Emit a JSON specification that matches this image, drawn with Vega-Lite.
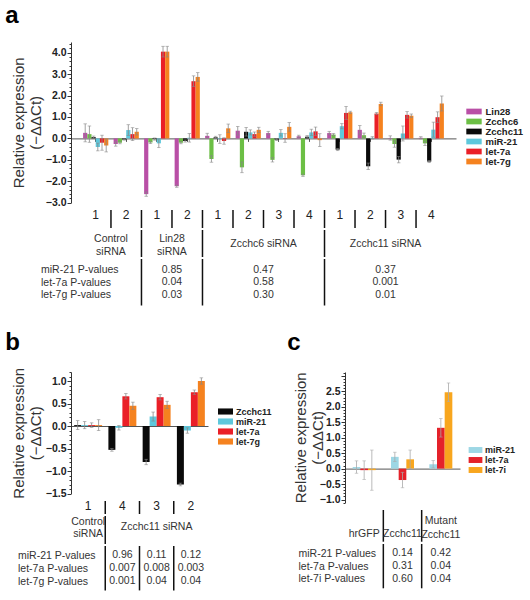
{
  "$schema": "https://vega.github.io/schema/vega-lite/v6.json",
  "padding": {"left": 5, "top": 4, "right": 5, "bottom": 2},
  "config": {"font": "Liberation Sans", "view": {"stroke": null}, "axis": {"grid": false}},
  "datasets": {
    "a_bars": [
      {"g": "Control siRNA 1", "s": "Lin28", "v": 0.26, "e": 0.42},
      {"g": "Control siRNA 1", "s": "Zcchc6", "v": 0.2, "e": 0.38},
      {"g": "Control siRNA 1", "s": "Zcchc11", "v": 0.06, "e": 0.05},
      {"g": "Control siRNA 1", "s": "miR-21", "v": -0.4, "e": 0.18},
      {"g": "Control siRNA 1", "s": "let-7a", "v": -0.2, "e": 0.35},
      {"g": "Control siRNA 1", "s": "let-7g", "v": -0.33, "e": 0.3},
      {"g": "Control siRNA 2", "s": "Lin28", "v": -0.26, "e": 0.1},
      {"g": "Control siRNA 2", "s": "Zcchc6", "v": -0.2, "e": 0.05},
      {"g": "Control siRNA 2", "s": "Zcchc11", "v": -0.05, "e": 0.03},
      {"g": "Control siRNA 2", "s": "miR-21", "v": 0.39, "e": 0.25},
      {"g": "Control siRNA 2", "s": "let-7a", "v": 0.2, "e": 0.3},
      {"g": "Control siRNA 2", "s": "let-7g", "v": 0.31, "e": 0.15},
      {"g": "Lin28 siRNA 1", "s": "Lin28", "v": -2.6, "e": 0.1},
      {"g": "Lin28 siRNA 1", "s": "Zcchc6", "v": -0.19, "e": 0.05},
      {"g": "Lin28 siRNA 1", "s": "Zcchc11", "v": -0.03, "e": 0.05},
      {"g": "Lin28 siRNA 1", "s": "miR-21", "v": -0.23, "e": 0.2},
      {"g": "Lin28 siRNA 1", "s": "let-7a", "v": 4.05, "e": 0.25},
      {"g": "Lin28 siRNA 1", "s": "let-7g", "v": 4.05, "e": 0.25},
      {"g": "Lin28 siRNA 2", "s": "Lin28", "v": -2.23, "e": 0.05},
      {"g": "Lin28 siRNA 2", "s": "Zcchc6", "v": -0.2, "e": 0.05},
      {"g": "Lin28 siRNA 2", "s": "Zcchc11", "v": -0.12, "e": 0.05},
      {"g": "Lin28 siRNA 2", "s": "miR-21", "v": 0.03, "e": 0.2},
      {"g": "Lin28 siRNA 2", "s": "let-7a", "v": 2.67, "e": 0.25},
      {"g": "Lin28 siRNA 2", "s": "let-7g", "v": 2.87, "e": 0.2},
      {"g": "Zcchc6 siRNA 1", "s": "Lin28", "v": 0.12, "e": 0.12},
      {"g": "Zcchc6 siRNA 1", "s": "Zcchc6", "v": -0.96, "e": 0.15},
      {"g": "Zcchc6 siRNA 1", "s": "Zcchc11", "v": 0.05, "e": 0.05},
      {"g": "Zcchc6 siRNA 1", "s": "miR-21", "v": -0.03, "e": 0.2},
      {"g": "Zcchc6 siRNA 1", "s": "let-7a", "v": -0.12, "e": 0.15},
      {"g": "Zcchc6 siRNA 1", "s": "let-7g", "v": 0.47, "e": 0.2},
      {"g": "Zcchc6 siRNA 2", "s": "Lin28", "v": 0.36, "e": 0.2},
      {"g": "Zcchc6 siRNA 2", "s": "Zcchc6", "v": -1.35, "e": 0.25},
      {"g": "Zcchc6 siRNA 2", "s": "Zcchc11", "v": 0.31, "e": 0.2},
      {"g": "Zcchc6 siRNA 2", "s": "miR-21", "v": 0.28, "e": 0.12},
      {"g": "Zcchc6 siRNA 2", "s": "let-7a", "v": 0.2, "e": 0.1},
      {"g": "Zcchc6 siRNA 2", "s": "let-7g", "v": 0.4, "e": 0.12},
      {"g": "Zcchc6 siRNA 3", "s": "Lin28", "v": 0.25, "e": 0.08},
      {"g": "Zcchc6 siRNA 3", "s": "Zcchc6", "v": -1.0, "e": 0.1},
      {"g": "Zcchc6 siRNA 3", "s": "Zcchc11", "v": -0.05, "e": 0.05},
      {"g": "Zcchc6 siRNA 3", "s": "miR-21", "v": 0.26, "e": 0.15},
      {"g": "Zcchc6 siRNA 3", "s": "let-7a", "v": 0.02, "e": 0.2},
      {"g": "Zcchc6 siRNA 3", "s": "let-7g", "v": 0.54, "e": 0.2},
      {"g": "Zcchc6 siRNA 4", "s": "Lin28", "v": 0.1, "e": 0.05},
      {"g": "Zcchc6 siRNA 4", "s": "Zcchc6", "v": -1.72, "e": 0.05},
      {"g": "Zcchc6 siRNA 4", "s": "Zcchc11", "v": 0.08, "e": 0.05},
      {"g": "Zcchc6 siRNA 4", "s": "miR-21", "v": 0.28, "e": 0.15},
      {"g": "Zcchc6 siRNA 4", "s": "let-7a", "v": 0.33, "e": 0.2},
      {"g": "Zcchc6 siRNA 4", "s": "let-7g", "v": -0.08, "e": 0.3},
      {"g": "Zcchc11 siRNA 1", "s": "Lin28", "v": 0.25, "e": 0.08},
      {"g": "Zcchc11 siRNA 1", "s": "Zcchc6", "v": 0.18, "e": 0.05},
      {"g": "Zcchc11 siRNA 1", "s": "Zcchc11", "v": -0.52, "e": 0.05},
      {"g": "Zcchc11 siRNA 1", "s": "miR-21", "v": 0.57, "e": 0.12},
      {"g": "Zcchc11 siRNA 1", "s": "let-7a", "v": 1.19, "e": 0.3},
      {"g": "Zcchc11 siRNA 1", "s": "let-7g", "v": 1.22, "e": 0.05},
      {"g": "Zcchc11 siRNA 2", "s": "Lin28", "v": 0.4, "e": 0.2},
      {"g": "Zcchc11 siRNA 2", "s": "Zcchc6", "v": 0.15, "e": 0.1},
      {"g": "Zcchc11 siRNA 2", "s": "Zcchc11", "v": -1.3, "e": 0.15},
      {"g": "Zcchc11 siRNA 2", "s": "miR-21", "v": 0.03, "e": 0.05},
      {"g": "Zcchc11 siRNA 2", "s": "let-7a", "v": 1.16, "e": 0.05},
      {"g": "Zcchc11 siRNA 2", "s": "let-7g", "v": 1.61, "e": 0.08},
      {"g": "Zcchc11 siRNA 3", "s": "Lin28", "v": 0.02, "e": 0.1},
      {"g": "Zcchc11 siRNA 3", "s": "Zcchc6", "v": -0.26, "e": 0.15},
      {"g": "Zcchc11 siRNA 3", "s": "Zcchc11", "v": -0.99, "e": 0.15},
      {"g": "Zcchc11 siRNA 3", "s": "miR-21", "v": 0.23, "e": 0.35},
      {"g": "Zcchc11 siRNA 3", "s": "let-7a", "v": 1.1, "e": 0.15},
      {"g": "Zcchc11 siRNA 3", "s": "let-7g", "v": 1.06, "e": 0.08},
      {"g": "Zcchc11 siRNA 4", "s": "Lin28", "v": 0.03, "e": 0.05},
      {"g": "Zcchc11 siRNA 4", "s": "Zcchc6", "v": -0.23, "e": 0.1},
      {"g": "Zcchc11 siRNA 4", "s": "Zcchc11", "v": -1.08, "e": 0.05},
      {"g": "Zcchc11 siRNA 4", "s": "miR-21", "v": 0.41, "e": 0.35},
      {"g": "Zcchc11 siRNA 4", "s": "let-7a", "v": 0.99, "e": 0.25},
      {"g": "Zcchc11 siRNA 4", "s": "let-7g", "v": 1.63, "e": 0.35}
    ],
    "a_groups": [
      {"g": "Control siRNA 1", "num": "1", "sep": "none"},
      {"g": "Control siRNA 2", "num": "2", "sep": "short"},
      {"g": "Lin28 siRNA 1", "num": "1", "sep": "long"},
      {"g": "Lin28 siRNA 2", "num": "2", "sep": "short"},
      {"g": "Zcchc6 siRNA 1", "num": "1", "sep": "long"},
      {"g": "Zcchc6 siRNA 2", "num": "2", "sep": "short"},
      {"g": "Zcchc6 siRNA 3", "num": "3", "sep": "short"},
      {"g": "Zcchc6 siRNA 4", "num": "4", "sep": "short"},
      {"g": "Zcchc11 siRNA 1", "num": "1", "sep": "long"},
      {"g": "Zcchc11 siRNA 2", "num": "2", "sep": "short"},
      {"g": "Zcchc11 siRNA 3", "num": "3", "sep": "short"},
      {"g": "Zcchc11 siRNA 4", "num": "4", "sep": "short"}
    ],
    "a_conds": [
      {"g": "Control siRNA 1", "label": "Control\nsiRNA"},
      {"g": "Lin28 siRNA 1", "label": "Lin28\nsiRNA"},
      {"g": "Zcchc6 siRNA 2", "label": "Zcchc6 siRNA"},
      {"g": "Zcchc11 siRNA 2", "label": "Zcchc11 siRNA"}
    ],
    "a_p": [
      {"row": "miR-21 P-values", "g": "Lin28 siRNA 1", "p": "0.85"},
      {"row": "let-7a P-values", "g": "Lin28 siRNA 1", "p": "0.04"},
      {"row": "let-7g P-values", "g": "Lin28 siRNA 1", "p": "0.03"},
      {"row": "miR-21 P-values", "g": "Zcchc6 siRNA 2", "p": "0.47"},
      {"row": "let-7a P-values", "g": "Zcchc6 siRNA 2", "p": "0.58"},
      {"row": "let-7g P-values", "g": "Zcchc6 siRNA 2", "p": "0.30"},
      {"row": "miR-21 P-values", "g": "Zcchc11 siRNA 2", "p": "0.37"},
      {"row": "let-7a P-values", "g": "Zcchc11 siRNA 2", "p": "0.001"},
      {"row": "let-7g P-values", "g": "Zcchc11 siRNA 2", "p": "0.01"}
    ],
    "b_bars": [
      {"g": "Control siRNA 1", "s": "Zcchc11", "v": 0.02, "e": 0.1},
      {"g": "Control siRNA 1", "s": "miR-21", "v": 0.02, "e": 0.08},
      {"g": "Control siRNA 1", "s": "let-7a", "v": 0.02, "e": 0.05},
      {"g": "Control siRNA 1", "s": "let-7g", "v": 0.02, "e": 0.12},
      {"g": "Zcchc11 siRNA 4", "s": "Zcchc11", "v": -0.53, "e": 0.03},
      {"g": "Zcchc11 siRNA 4", "s": "miR-21", "v": -0.04, "e": 0.05},
      {"g": "Zcchc11 siRNA 4", "s": "let-7a", "v": 0.66, "e": 0.06},
      {"g": "Zcchc11 siRNA 4", "s": "let-7g", "v": 0.45, "e": 0.08},
      {"g": "Zcchc11 siRNA 3", "s": "Zcchc11", "v": -0.8, "e": 0.06},
      {"g": "Zcchc11 siRNA 3", "s": "miR-21", "v": 0.21, "e": 0.1},
      {"g": "Zcchc11 siRNA 3", "s": "let-7a", "v": 0.64, "e": 0.06},
      {"g": "Zcchc11 siRNA 3", "s": "let-7g", "v": 0.47, "e": 0.08},
      {"g": "Zcchc11 siRNA 2", "s": "Zcchc11", "v": -1.3, "e": 0.03},
      {"g": "Zcchc11 siRNA 2", "s": "miR-21", "v": -0.1, "e": 0.06},
      {"g": "Zcchc11 siRNA 2", "s": "let-7a", "v": 0.75, "e": 0.05},
      {"g": "Zcchc11 siRNA 2", "s": "let-7g", "v": 1.0, "e": 0.07}
    ],
    "b_groups": [
      {"g": "Control siRNA 1", "num": "1", "sep": "none"},
      {"g": "Zcchc11 siRNA 4", "num": "4", "sep": "long"},
      {"g": "Zcchc11 siRNA 3", "num": "3", "sep": "split"},
      {"g": "Zcchc11 siRNA 2", "num": "2", "sep": "split"}
    ],
    "b_conds": [
      {"g": "Control siRNA 1", "label": "Control\nsiRNA"},
      {"g": "Zcchc11 siRNA 3", "label": "Zcchc11 siRNA"}
    ],
    "b_p": [
      {"row": "miR-21 P-values", "g": "Zcchc11 siRNA 4", "p": "0.96"},
      {"row": "let-7a P-values", "g": "Zcchc11 siRNA 4", "p": "0.007"},
      {"row": "let-7g P-values", "g": "Zcchc11 siRNA 4", "p": "0.001"},
      {"row": "miR-21 P-values", "g": "Zcchc11 siRNA 3", "p": "0.11"},
      {"row": "let-7a P-values", "g": "Zcchc11 siRNA 3", "p": "0.008"},
      {"row": "let-7g P-values", "g": "Zcchc11 siRNA 3", "p": "0.04"},
      {"row": "miR-21 P-values", "g": "Zcchc11 siRNA 2", "p": "0.12"},
      {"row": "let-7a P-values", "g": "Zcchc11 siRNA 2", "p": "0.003"},
      {"row": "let-7g P-values", "g": "Zcchc11 siRNA 2", "p": "0.04"}
    ],
    "c_bars": [
      {"g": "hrGFP", "s": "miR-21", "v": 0.05, "e": 0.2},
      {"g": "hrGFP", "s": "let-7a", "v": -0.05, "e": 0.3},
      {"g": "hrGFP", "s": "let-7i", "v": -0.05, "e": 0.65},
      {"g": "Zcchc11", "s": "miR-21", "v": 0.38, "e": 0.15},
      {"g": "Zcchc11", "s": "let-7a", "v": -0.37, "e": 0.25},
      {"g": "Zcchc11", "s": "let-7i", "v": 0.3, "e": 0.3},
      {"g": "Mutant Zcchc11", "s": "miR-21", "v": 0.14, "e": 0.12},
      {"g": "Mutant Zcchc11", "s": "let-7a", "v": 1.32, "e": 0.3},
      {"g": "Mutant Zcchc11", "s": "let-7i", "v": 2.47, "e": 0.3}
    ],
    "c_groups": [
      {"g": "hrGFP", "sep": "none", "label": "hrGFP"},
      {"g": "Zcchc11", "sep": "long", "label": "Zcchc11"},
      {"g": "Mutant Zcchc11", "sep": "long", "label": "Mutant\nZcchc11"}
    ],
    "c_p": [
      {"row": "miR-21 P-values", "g": "Zcchc11", "p": "0.14"},
      {"row": "let-7a P-values", "g": "Zcchc11", "p": "0.31"},
      {"row": "let-7i P-values", "g": "Zcchc11", "p": "0.60"},
      {"row": "miR-21 P-values", "g": "Mutant Zcchc11", "p": "0.42"},
      {"row": "let-7a P-values", "g": "Mutant Zcchc11", "p": "0.04"},
      {"row": "let-7i P-values", "g": "Mutant Zcchc11", "p": "0.04"}
    ]
  },
  "spacing": 23,
  "resolve": {"scale": {"color": "independent", "xOffset": "independent"}, "legend": {"color": "independent"}},
  "vconcat": [
    {
      "title": {"text": "a", "fontSize": 24, "fontWeight": "bold", "anchor": "start", "frame": "bounds", "offset": 11, "dx": -6, "color": "#000"},
      "spacing": 0,
      "vconcat": [
        {
          "width": 385,
          "height": 160.7,
          "data": {"name": "a_bars"},
          "encoding": {
            "x": {"field": "g", "type": "nominal", "scale": {"type": "band", "domain": ["Control siRNA 1", "Control siRNA 2", "Lin28 siRNA 1", "Lin28 siRNA 2", "Zcchc6 siRNA 1", "Zcchc6 siRNA 2", "Zcchc6 siRNA 3", "Zcchc6 siRNA 4", "Zcchc11 siRNA 1", "Zcchc11 siRNA 2", "Zcchc11 siRNA 3", "Zcchc11 siRNA 4"], "paddingInner": 0, "paddingOuter": 0.31}, "axis": {"orient": "bottom", "offset": -64.3, "labels": false, "title": null, "tickSize": 3, "tickColor": "#555", "domainColor": "#555", "domainWidth": 1}},
            "xOffset": {"field": "s", "type": "nominal", "scale": {"domain": ["Lin28", "Zcchc6", "Zcchc11", "miR-21", "let-7a", "let-7g"], "paddingInner": 0, "paddingOuter": 0.63}},
            "y": {"field": "v", "type": "quantitative", "scale": {"domain": [-3, 4.5], "nice": false, "zero": false}, "axis": {"title": ["Relative expression", "(−ΔΔCt)"], "titleFontSize": 15, "titleFontWeight": "normal", "titleColor": "#333", "titleLineHeight": 17, "titlePadding": 2, "values": [-3, -2.8, -2.6, -2.4, -2.2, -2, -1.8, -1.6, -1.4, -1.2, -1, -0.8, -0.6, -0.4, -0.2, 0, 0.2, 0.4, 0.6, 0.8, 1, 1.2, 1.4, 1.6, 1.8, 2, 2.2, 2.4, 2.6, 2.8, 3, 3.2, 3.4, 3.6, 3.8, 4, 4.2, 4.4], "labelExpr": "abs(datum.value - round(datum.value)) < 0.01 ? format(datum.value, '.1f') : ''", "tickSize": {"condition": {"test": "abs(datum.value - round(datum.value)) < 0.01", "value": 4}, "value": 2}, "labelFontSize": 10.5, "labelFontWeight": "bold", "labelColor": "#222", "labelPadding": 1, "labelOverlap": false, "labelFlush": false, "tickColor": "#333", "domainColor": "#333"}}
          },
          "layer": [
            {
              "mark": {"type": "bar"},
              "encoding": {
                "color": {"field": "s", "type": "nominal", "scale": {"domain": ["Lin28", "Zcchc6", "Zcchc11", "miR-21", "let-7a", "let-7g"], "range": ["#b94fa6", "#6cbf45", "#0a0a0a", "#5ec8dc", "#ea1f27", "#f5821f"]}, "legend": {"title": null, "orient": "none", "legendX": 397.5, "legendY": 64, "symbolType": "M-1.4,-0.52H1.4V0.52H-1.4Z", "symbolSize": 121, "symbolStrokeWidth": 0, "labelFontSize": 9.5, "labelFontWeight": "bold", "labelColor": "#222", "labelOffset": 6, "rowPadding": 0, "padding": 0}}
              }
            },
            {
              "mark": {"type": "errorbar", "color": "#888", "thickness": 0.8, "ticks": {"size": 3.5, "thickness": 0.8, "color": "#888"}},
              "encoding": {"yError": {"field": "e"}}
            }
          ]
        },
        {
          "spacing": 0,
          "vconcat": [
            {
              "width": 385,
              "height": 18,
              "data": {"name": "a_groups"},
              "layer": [
                {
                  "transform": [{"filter": "datum.sep != 'none'"}],
                  "mark": {"type": "rule", "color": "#111", "strokeWidth": 1.5},
                  "encoding": {"x": {"field": "g", "type": "nominal", "bandPosition": 0, "scale": {"type": "band", "domain": ["Control siRNA 1", "Control siRNA 2", "Lin28 siRNA 1", "Lin28 siRNA 2", "Zcchc6 siRNA 1", "Zcchc6 siRNA 2", "Zcchc6 siRNA 3", "Zcchc6 siRNA 4", "Zcchc11 siRNA 1", "Zcchc11 siRNA 2", "Zcchc11 siRNA 3", "Zcchc11 siRNA 4"], "paddingInner": 0, "paddingOuter": 0.31}, "axis": null}}
                },
                {
                  "mark": {"type": "text", "fontSize": 12, "color": "#222", "dy": -4},
                  "encoding": {"x": {"field": "g", "type": "nominal", "scale": {"type": "band", "domain": ["Control siRNA 1", "Control siRNA 2", "Lin28 siRNA 1", "Lin28 siRNA 2", "Zcchc6 siRNA 1", "Zcchc6 siRNA 2", "Zcchc6 siRNA 3", "Zcchc6 siRNA 4", "Zcchc11 siRNA 1", "Zcchc11 siRNA 2", "Zcchc11 siRNA 3", "Zcchc11 siRNA 4"], "paddingInner": 0, "paddingOuter": 0.31}, "axis": null}, "text": {"field": "num"}}
                }
              ]
            },
            {
              "width": 385,
              "height": 27,
              "layer": [
                {
                  "data": {"name": "a_groups"},
                  "transform": [{"filter": "datum.sep == 'long'"}],
                  "mark": {"type": "rule", "color": "#111", "strokeWidth": 1.5},
                  "encoding": {"x": {"field": "g", "type": "nominal", "bandPosition": 0, "scale": {"type": "band", "domain": ["Control siRNA 1", "Control siRNA 2", "Lin28 siRNA 1", "Lin28 siRNA 2", "Zcchc6 siRNA 1", "Zcchc6 siRNA 2", "Zcchc6 siRNA 3", "Zcchc6 siRNA 4", "Zcchc11 siRNA 1", "Zcchc11 siRNA 2", "Zcchc11 siRNA 3", "Zcchc11 siRNA 4"], "paddingInner": 0, "paddingOuter": 0.31}, "axis": null}}
                },
                {
                  "data": {"name": "a_conds"},
                  "transform": [{"filter": "indexof(datum.label, '\\n') >= 0"}],
                  "mark": {"type": "text", "fontSize": 10.5, "color": "#333", "lineBreak": "\n", "lineHeight": 12.5, "dy": -4.5},
                  "encoding": {"x": {"field": "g", "type": "nominal", "bandPosition": 1, "scale": {"type": "band", "domain": ["Control siRNA 1", "Control siRNA 2", "Lin28 siRNA 1", "Lin28 siRNA 2", "Zcchc6 siRNA 1", "Zcchc6 siRNA 2", "Zcchc6 siRNA 3", "Zcchc6 siRNA 4", "Zcchc11 siRNA 1", "Zcchc11 siRNA 2", "Zcchc11 siRNA 3", "Zcchc11 siRNA 4"], "paddingInner": 0, "paddingOuter": 0.31}, "axis": null}, "text": {"field": "label"}}
                },
                {
                  "data": {"name": "a_conds"},
                  "transform": [{"filter": "indexof(datum.label, '\\n') < 0"}],
                  "mark": {"type": "text", "fontSize": 10.5, "color": "#333", "dy": 0.8},
                  "encoding": {"x": {"field": "g", "type": "nominal", "bandPosition": 1, "scale": {"type": "band", "domain": ["Control siRNA 1", "Control siRNA 2", "Lin28 siRNA 1", "Lin28 siRNA 2", "Zcchc6 siRNA 1", "Zcchc6 siRNA 2", "Zcchc6 siRNA 3", "Zcchc6 siRNA 4", "Zcchc11 siRNA 1", "Zcchc11 siRNA 2", "Zcchc11 siRNA 3", "Zcchc11 siRNA 4"], "paddingInner": 0, "paddingOuter": 0.31}, "axis": null}, "text": {"field": "label"}}
                }
              ]
            },
            {
              "width": 385,
              "height": 46.5,
              "layer": [
                {
                  "data": {"name": "a_groups"},
                  "transform": [{"filter": "datum.sep == 'long'"}],
                  "mark": {"type": "rule", "color": "#111", "strokeWidth": 1.5},
                  "encoding": {"x": {"field": "g", "type": "nominal", "bandPosition": 0, "scale": {"type": "band", "domain": ["Control siRNA 1", "Control siRNA 2", "Lin28 siRNA 1", "Lin28 siRNA 2", "Zcchc6 siRNA 1", "Zcchc6 siRNA 2", "Zcchc6 siRNA 3", "Zcchc6 siRNA 4", "Zcchc11 siRNA 1", "Zcchc11 siRNA 2", "Zcchc11 siRNA 3", "Zcchc11 siRNA 4"], "paddingInner": 0, "paddingOuter": 0.31}, "axis": null}}
                },
                {
                  "data": {"name": "a_p"},
                  "mark": {"type": "text", "fontSize": 10.5, "color": "#333"},
                  "encoding": {
                    "x": {"field": "g", "type": "nominal", "bandPosition": 1, "scale": {"type": "band", "domain": ["Control siRNA 1", "Control siRNA 2", "Lin28 siRNA 1", "Lin28 siRNA 2", "Zcchc6 siRNA 1", "Zcchc6 siRNA 2", "Zcchc6 siRNA 3", "Zcchc6 siRNA 4", "Zcchc11 siRNA 1", "Zcchc11 siRNA 2", "Zcchc11 siRNA 3", "Zcchc11 siRNA 4"], "paddingInner": 0, "paddingOuter": 0.31}, "axis": null},
                    "y": {"field": "row", "type": "nominal", "scale": {"type": "point", "domain": ["miR-21 P-values", "let-7a P-values", "let-7g P-values"], "padding": 0.86}, "axis": {"title": null, "domain": false, "ticks": false, "tickSize": 0, "labelAlign": "left", "labelPadding": 30.5, "labelFontSize": 10.5, "labelColor": "#333"}},
                    "text": {"field": "p"}
                  }
                }
              ]
            }
          ]
        }
      ]
    },
    {
      "spacing": 15,
      "resolve": {"scale": {"color": "independent", "xOffset": "independent"}, "legend": {"color": "independent"}},
      "hconcat": [
        {
          "title": {"text": "b", "fontSize": 24, "fontWeight": "bold", "anchor": "start", "frame": "bounds", "offset": 12.5, "dx": -6, "color": "#000"},
          "spacing": 0,
          "vconcat": [
            {
              "width": 137,
              "height": 121.5,
              "data": {"name": "b_bars"},
              "encoding": {
                "x": {"field": "g", "type": "nominal", "scale": {"type": "band", "domain": ["Control siRNA 1", "Zcchc11 siRNA 4", "Zcchc11 siRNA 3", "Zcchc11 siRNA 2"], "paddingInner": 0, "paddingOuter": 0}, "axis": {"orient": "bottom", "offset": -67.5, "labels": false, "ticks": false, "title": null, "domainColor": "#555", "domainWidth": 1}},
                "xOffset": {"field": "s", "type": "nominal", "scale": {"domain": ["Zcchc11", "miR-21", "let-7a", "let-7g"], "paddingInner": 0, "paddingOuter": 0.45}},
                "y": {"field": "v", "type": "quantitative", "scale": {"domain": [-1.5, 1.2], "nice": false, "zero": false}, "axis": {"title": ["Relative expression", "(−ΔΔCt)"], "titleFontSize": 15, "titleFontWeight": "normal", "titleColor": "#333", "titleLineHeight": 17, "titlePadding": 2, "values": [-1.5, -1.4, -1.3, -1.2, -1.1, -1, -0.9, -0.8, -0.7, -0.6, -0.5, -0.4, -0.3, -0.2, -0.1, 0, 0.1, 0.2, 0.3, 0.4, 0.5, 0.6, 0.7, 0.8, 0.9, 1, 1.1, 1.2], "labelExpr": "abs(datum.value * 2 - round(datum.value * 2)) < 0.01 ? format(datum.value, '.1f') : ''", "tickSize": {"condition": {"test": "abs(datum.value * 2 - round(datum.value * 2)) < 0.01", "value": 4}, "value": 2}, "labelFontSize": 10.5, "labelFontWeight": "bold", "labelColor": "#222", "labelPadding": 1, "labelOverlap": false, "labelFlush": false, "tickColor": "#333", "domainColor": "#333"}}
              },
              "layer": [
                {
                  "mark": {"type": "bar"},
                  "encoding": {
                    "color": {"field": "s", "type": "nominal", "scale": {"domain": ["Zcchc11", "miR-21", "let-7a", "let-7g"], "range": ["#0a0a0a", "#5ec8dc", "#ea1f27", "#f5821f"]}, "legend": {"title": null, "orient": "none", "legendX": 150, "legendY": 35, "symbolType": "M-1.77,-0.72H1.77V0.72H-1.77Z", "symbolSize": 72, "symbolStrokeWidth": 0, "labelFontSize": 9, "labelFontWeight": "bold", "labelColor": "#222", "labelOffset": 6, "rowPadding": 0, "padding": 0}}
                  }
                },
                {
                  "mark": {"type": "errorbar", "color": "#888", "thickness": 0.8, "ticks": {"size": 3.5, "thickness": 0.8, "color": "#888"}},
                  "encoding": {"yError": {"field": "e"}}
                }
              ]
            },
            {
              "spacing": 0,
              "vconcat": [
                {
                  "width": 137,
                  "height": 13,
                  "data": {"name": "b_groups"},
                  "layer": [
                    {
                      "transform": [{"filter": "datum.sep != 'none'"}],
                      "mark": {"type": "rule", "color": "#111", "strokeWidth": 1.5},
                      "encoding": {"x": {"field": "g", "type": "nominal", "bandPosition": 0, "scale": {"type": "band", "domain": ["Control siRNA 1", "Zcchc11 siRNA 4", "Zcchc11 siRNA 3", "Zcchc11 siRNA 2"], "paddingInner": 0, "paddingOuter": 0}, "axis": null}}
                    },
                    {
                      "mark": {"type": "text", "fontSize": 12, "color": "#222", "dy": -2},
                      "encoding": {"x": {"field": "g", "type": "nominal", "scale": {"type": "band", "domain": ["Control siRNA 1", "Zcchc11 siRNA 4", "Zcchc11 siRNA 3", "Zcchc11 siRNA 2"], "paddingInner": 0, "paddingOuter": 0}, "axis": null}, "text": {"field": "num"}}
                    }
                  ]
                },
                {
                  "width": 137,
                  "height": 28,
                  "layer": [
                    {
                      "data": {"name": "b_groups"},
                      "transform": [{"filter": "datum.sep == 'long'"}],
                      "mark": {"type": "rule", "color": "#111", "strokeWidth": 1.5},
                      "encoding": {"x": {"field": "g", "type": "nominal", "bandPosition": 0, "scale": {"type": "band", "domain": ["Control siRNA 1", "Zcchc11 siRNA 4", "Zcchc11 siRNA 3", "Zcchc11 siRNA 2"], "paddingInner": 0, "paddingOuter": 0}, "axis": null}}
                    },
                    {
                      "data": {"name": "b_conds"},
                      "transform": [{"filter": "indexof(datum.label, '\\n') >= 0"}],
                      "mark": {"type": "text", "fontSize": 10.5, "color": "#333", "lineBreak": "\n", "lineHeight": 12.5, "dy": -8.3},
                      "encoding": {"x": {"field": "g", "type": "nominal", "scale": {"type": "band", "domain": ["Control siRNA 1", "Zcchc11 siRNA 4", "Zcchc11 siRNA 3", "Zcchc11 siRNA 2"], "paddingInner": 0, "paddingOuter": 0}, "axis": null}, "text": {"field": "label"}}
                    },
                    {
                      "data": {"name": "b_conds"},
                      "transform": [{"filter": "indexof(datum.label, '\\n') < 0"}],
                      "mark": {"type": "text", "fontSize": 10.5, "color": "#333", "dy": -2.6},
                      "encoding": {"x": {"field": "g", "type": "nominal", "scale": {"type": "band", "domain": ["Control siRNA 1", "Zcchc11 siRNA 4", "Zcchc11 siRNA 3", "Zcchc11 siRNA 2"], "paddingInner": 0, "paddingOuter": 0}, "axis": null}, "text": {"field": "label"}}
                    }
                  ]
                },
                {
                  "width": 137,
                  "height": 44.4,
                  "layer": [
                    {
                      "data": {"name": "b_groups"},
                      "transform": [{"filter": "datum.sep == 'long' || datum.sep == 'split'"}],
                      "mark": {"type": "rule", "color": "#111", "strokeWidth": 1.5},
                      "encoding": {"x": {"field": "g", "type": "nominal", "bandPosition": 0, "scale": {"type": "band", "domain": ["Control siRNA 1", "Zcchc11 siRNA 4", "Zcchc11 siRNA 3", "Zcchc11 siRNA 2"], "paddingInner": 0, "paddingOuter": 0}, "axis": null}}
                    },
                    {
                      "data": {"name": "b_p"},
                      "mark": {"type": "text", "fontSize": 10.5, "color": "#333"},
                      "encoding": {
                        "x": {"field": "g", "type": "nominal", "scale": {"type": "band", "domain": ["Control siRNA 1", "Zcchc11 siRNA 4", "Zcchc11 siRNA 3", "Zcchc11 siRNA 2"], "paddingInner": 0, "paddingOuter": 0}, "axis": null},
                        "y": {"field": "row", "type": "nominal", "scale": {"type": "point", "domain": ["miR-21 P-values", "let-7a P-values", "let-7g P-values"], "padding": 0.72}, "axis": {"title": null, "domain": false, "ticks": false, "tickSize": 0, "labelAlign": "left", "labelPadding": 53.5, "labelFontSize": 10.5, "labelColor": "#333"}},
                        "text": {"field": "p"}
                      }
                    }
                  ]
                }
              ]
            }
          ]
        },
        {
          "title": {"text": "c", "fontSize": 24, "fontWeight": "bold", "anchor": "start", "frame": "bounds", "offset": 12.8, "dx": -6, "color": "#000"},
          "spacing": 0,
          "vconcat": [
            {
              "width": 115,
              "height": 130.6,
              "data": {"name": "c_bars"},
              "encoding": {
                "x": {"field": "g", "type": "nominal", "scale": {"type": "band", "domain": ["hrGFP", "Zcchc11", "Mutant Zcchc11"], "paddingInner": 0, "paddingOuter": 0}, "axis": {"orient": "bottom", "offset": -34, "labels": false, "ticks": false, "title": null, "domainColor": "#555", "domainWidth": 1}},
                "xOffset": {"field": "s", "type": "nominal", "scale": {"domain": ["miR-21", "let-7a", "let-7i"], "paddingInner": 0, "paddingOuter": 1.37}},
                "y": {"field": "v", "type": "quantitative", "scale": {"domain": [-1.1, 3.125], "nice": false, "zero": false}, "axis": {"title": ["Relative expression", "(−ΔΔCt)"], "titleFontSize": 15, "titleFontWeight": "normal", "titleColor": "#333", "titleLineHeight": 17, "titlePadding": -6, "values": [-1.1, -1, -0.9, -0.8, -0.7, -0.6, -0.5, -0.4, -0.3, -0.2, -0.1, 0, 0.1, 0.2, 0.3, 0.4, 0.5, 0.6, 0.7, 0.8, 0.9, 1, 1.1, 1.2, 1.3, 1.4, 1.5, 1.6, 1.7, 1.8, 1.9, 2, 2.1, 2.2, 2.3, 2.4, 2.5, 2.6, 2.7, 2.8, 2.9, 3, 3.1], "labelExpr": "abs(datum.value * 2 - round(datum.value * 2)) < 0.01 && datum.value < 2.9 ? format(datum.value, '.1f') : ''", "tickSize": {"condition": {"test": "abs(datum.value * 2 - round(datum.value * 2)) < 0.01", "value": 4}, "value": 2}, "labelFontSize": 10.5, "labelFontWeight": "bold", "labelColor": "#222", "labelPadding": 1, "labelOverlap": false, "labelFlush": false, "tickColor": "#333", "domainColor": "#333"}}
              },
              "layer": [
                {
                  "mark": {"type": "bar"},
                  "encoding": {
                    "color": {"field": "s", "type": "nominal", "scale": {"domain": ["miR-21", "let-7a", "let-7i"], "range": ["#9dd7e5", "#e4222a", "#f8a61e"]}, "legend": {"title": null, "orient": "none", "legendX": 126, "legendY": 73.5, "symbolType": "M-1.62,-0.7H1.62V0.7H-1.62Z", "symbolSize": 72, "symbolStrokeWidth": 0, "labelFontSize": 9, "labelFontWeight": "bold", "labelColor": "#222", "labelOffset": 5, "rowPadding": 0, "padding": 0}}
                  }
                },
                {
                  "mark": {"type": "errorbar", "color": "#aaa", "thickness": 0.8, "ticks": {"size": 3.5, "thickness": 0.8, "color": "#aaa"}},
                  "encoding": {"yError": {"field": "e"}}
                }
              ]
            },
            {
              "spacing": 0,
              "vconcat": [
                {
                  "width": 115,
                  "height": 31.7,
                  "data": {"name": "c_groups"},
                  "layer": [
                    {
                      "transform": [{"filter": "datum.sep == 'long'"}],
                      "mark": {"type": "rule", "color": "#111", "strokeWidth": 1.5},
                      "encoding": {"x": {"field": "g", "type": "nominal", "bandPosition": 0, "scale": {"type": "band", "domain": ["hrGFP", "Zcchc11", "Mutant Zcchc11"], "paddingInner": 0, "paddingOuter": 0}, "axis": null}}
                    },
                    {
                      "transform": [{"filter": "indexof(datum.label, '\\n') >= 0"}],
                      "mark": {"type": "text", "fontSize": 10.5, "color": "#333", "lineBreak": "\n", "lineHeight": 14.5, "dy": -5.35},
                      "encoding": {"x": {"field": "g", "type": "nominal", "scale": {"type": "band", "domain": ["hrGFP", "Zcchc11", "Mutant Zcchc11"], "paddingInner": 0, "paddingOuter": 0}, "axis": null}, "text": {"field": "label"}}
                    },
                    {
                      "transform": [{"filter": "indexof(datum.label, '\\n') < 0"}],
                      "mark": {"type": "text", "fontSize": 10.5, "color": "#333", "dy": 7.85},
                      "encoding": {"x": {"field": "g", "type": "nominal", "scale": {"type": "band", "domain": ["hrGFP", "Zcchc11", "Mutant Zcchc11"], "paddingInner": 0, "paddingOuter": 0}, "axis": null}, "text": {"field": "label"}}
                    }
                  ]
                },
                {
                  "width": 115,
                  "height": 44.3,
                  "layer": [
                    {
                      "data": {"name": "c_groups"},
                      "transform": [{"filter": "datum.sep == 'long'"}],
                      "mark": {"type": "rule", "color": "#111", "strokeWidth": 1.5},
                      "encoding": {"x": {"field": "g", "type": "nominal", "bandPosition": 0, "scale": {"type": "band", "domain": ["hrGFP", "Zcchc11", "Mutant Zcchc11"], "paddingInner": 0, "paddingOuter": 0}, "axis": null}}
                    },
                    {
                      "data": {"name": "c_p"},
                      "mark": {"type": "text", "fontSize": 10.5, "color": "#333"},
                      "encoding": {
                        "x": {"field": "g", "type": "nominal", "scale": {"type": "band", "domain": ["hrGFP", "Zcchc11", "Mutant Zcchc11"], "paddingInner": 0, "paddingOuter": 0}, "axis": null},
                        "y": {"field": "row", "type": "nominal", "scale": {"type": "point", "domain": ["miR-21 P-values", "let-7a P-values", "let-7i P-values"], "padding": 0.73}, "axis": {"title": null, "domain": false, "ticks": false, "tickSize": 0, "labelAlign": "left", "labelPadding": 47, "labelFontSize": 10.5, "labelColor": "#333"}},
                        "text": {"field": "p"}
                      }
                    }
                  ]
                }
              ]
            }
          ]
        }
      ]
    }
  ]
}
